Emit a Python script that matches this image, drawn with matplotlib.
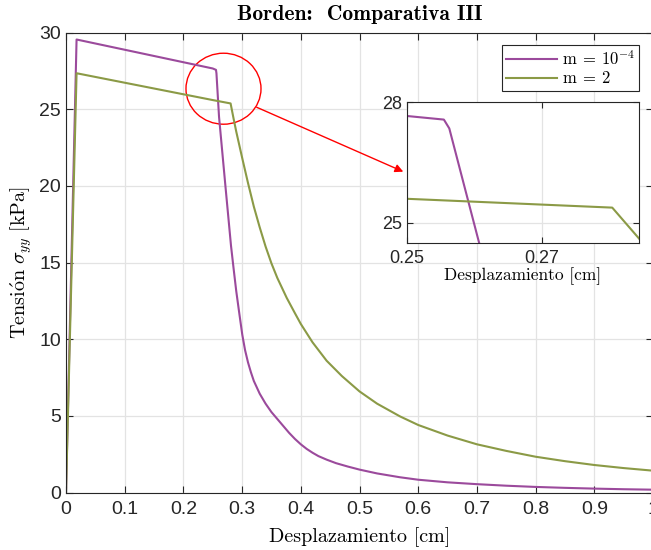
import matplotlib
matplotlib.use("Agg")
import matplotlib.pyplot as plt
from matplotlib.patches import Ellipse

plt.rcParams['font.family'] = ['Liberation Sans', 'DejaVu Sans']
plt.rcParams['mathtext.fontset'] = 'cm'

# Desplazamiento [cm] y tension [kPa] de cada caso
x_m1 = [0, 0.018, 0.25, 0.2555, 0.2563, 0.2607, 0.2714, 0.2811, 0.2857, 0.29,
        0.295, 0.3003, 0.305, 0.31, 0.315, 0.32, 0.33, 0.34, 0.35, 0.36,
        0.37, 0.38, 0.39, 0.4, 0.41, 0.42, 0.43, 0.444, 0.46, 0.48,
        0.5, 0.53, 0.569, 0.6, 0.65, 0.7, 0.75, 0.8, 0.85, 0.9,
        0.95, 1.0]
y_m1 = [0, 29.55, 27.66, 27.57, 27.35, 24.51, 20.07, 16.1, 14.55, 13.15,
        11.75, 10.3, 9.3, 8.5, 7.85, 7.28, 6.45, 5.8, 5.25, 4.8,
        4.35, 3.9, 3.5, 3.15, 2.85, 2.6, 2.38, 2.15, 1.92, 1.7,
        1.5, 1.25, 1.0, 0.84, 0.67, 0.55, 0.45, 0.37, 0.31, 0.26,
        0.22, 0.19]

x_m2 = [0, 0.018, 0.25, 0.2804, 0.2857, 0.29, 0.3, 0.31, 0.32, 0.33,
        0.34, 0.35, 0.36, 0.376, 0.39, 0.4, 0.42, 0.444, 0.47, 0.5,
        0.53, 0.569, 0.6, 0.65, 0.7, 0.75, 0.8, 0.85, 0.9, 0.95,
        1.0]
y_m2 = [0, 27.35, 25.60, 25.38, 24.35, 23.55, 21.85, 20.2, 18.65, 17.3,
        16.05, 14.95, 14.0, 12.7, 11.7, 11.0, 9.8, 8.6, 7.6, 6.6,
        5.8, 4.97, 4.41, 3.72, 3.15, 2.72, 2.34, 2.05, 1.8, 1.6,
        1.43]

etiquetas = [r'$\mathrm{m}\:=\:10^{-4}$', r'$\mathrm{m}\:=\:2$']
colores = ['#9b4a9c', '#8b9a46']

fig = plt.figure(figsize=(6.51, 5.5), dpi=100)
ax = fig.add_axes([66/651, 57.4/550, 587/651, 460/550])

ax.plot(x_m1, y_m1, color=colores[0], lw=1.5, label=etiquetas[0])
ax.plot(x_m2, y_m2, color=colores[1], lw=1.5, label=etiquetas[1])

ax.set_xlim(0, 1)
ax.set_ylim(0, 30)
ax.set_xticks([0, 0.1, 0.2, 0.3, 0.4, 0.5, 0.6, 0.7, 0.8, 0.9, 1.0])
ax.set_xticklabels(['0', '0.1', '0.2', '0.3', '0.4', '0.5', '0.6', '0.7', '0.8', '0.9', '1'])
ax.set_yticks([0, 5, 10, 15, 20, 25, 30])
ax.grid(True, color='#e3e3e3', lw=0.9)
ax.set_axisbelow(True)
ax.tick_params(direction='in', top=True, right=True, length=5, labelsize=14,
               colors='#262626')
ax.tick_params(axis='x', pad=6)
for s in ax.spines.values():
    s.set_color('#262626')
    s.set_linewidth(0.8)

ax.set_xlabel('Desplazamiento [cm]', fontfamily='cmr10', fontsize=14.5, labelpad=7)
ax.set_ylabel(r'$\mathrm{Tensi\acute{o}n}\ \sigma_{yy}\ \mathrm{[kPa]}$', fontsize=14.5, labelpad=4)
ax.set_title('Borden:  Comparativa III', fontfamily='cmb10', fontsize=15.5, pad=9)

leg = ax.legend(loc='upper right', bbox_to_anchor=(0.976, 0.973), borderaxespad=0,
                fontsize=12, fancybox=False, framealpha=1, edgecolor='#262626',
                handlelength=3.1, borderpad=0.25, labelspacing=0.15, handletextpad=0.25)
leg.get_frame().set_linewidth(0.8)

# zona ampliada
ax.add_patch(Ellipse((0.2683, 26.34), 0.1278, 4.63, fill=False, color='red', lw=1))
ax.annotate('', xy=(0.5746, 20.93), xytext=(0.3249, 25.13),
            arrowprops=dict(arrowstyle='-|>', color='red', lw=1, mutation_scale=12,
                            shrinkA=0, shrinkB=0))

axin = fig.add_axes([406.7/651, 307/550, 232.6/651, 140.7/550])
axin.plot(x_m1, y_m1, color=colores[0], lw=1.5)
axin.plot(x_m2, y_m2, color=colores[1], lw=1.5)
axin.set_xlim(0.25, 0.2844)
axin.set_ylim(24.5, 28)
axin.set_xticks([0.25, 0.27])
axin.set_xticklabels(['0.25', '0.27'])
axin.set_yticks([25, 28])
axin.grid(True, color='#e3e3e3', lw=0.9)
axin.set_axisbelow(True)
axin.tick_params(direction='in', top=True, right=True, length=4, labelsize=13,
                 colors='#262626')
axin.tick_params(axis='x', pad=5)
for s in axin.spines.values():
    s.set_color('#262626')
    s.set_linewidth(0.8)
axin.set_xlabel('Desplazamiento [cm]', fontfamily='cmr10', fontsize=12.5, labelpad=0)

fig.savefig('out.png', dpi=100)
